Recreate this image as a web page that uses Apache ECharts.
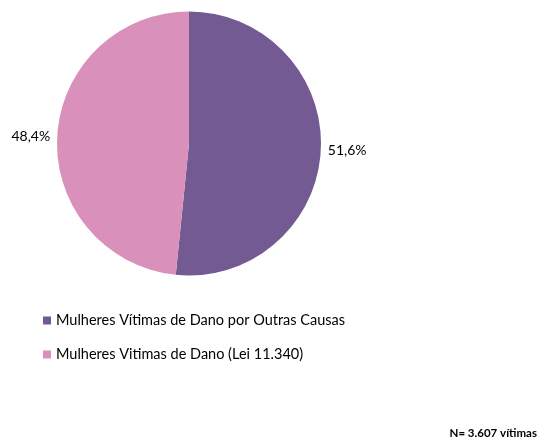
<!DOCTYPE html>
<html>
<head>
<meta charset="utf-8">
<script src="https://cdn.jsdelivr.net/npm/echarts@6/dist/echarts.min.js"></script>
<style>html,body{margin:0;padding:0;background:#fff}#c{width:539px;height:441px}</style>
</head>
<body>
<div id="c"></div>
<script>
const categories = ['Mulheres Vítimas de Dano por Outras Causas', 'Mulheres Vitimas de Dano (Lei 11.340)'];
const values = [51.6, 48.4];
const labels = ['51,6%', '48,4%'];
const colors = ['#735a92', '#d990bb'];
const footnote = 'N= 3.607 vítimas';

const chart = echarts.init(document.getElementById('c'), null, {renderer: 'canvas'});
chart.setOption({
  animation: false,
  color: colors,
  textStyle: {fontFamily: 'Lato'},
  legend: {
    orient: 'vertical', left: 38, top: 308,
    itemWidth: 8, itemHeight: 8, itemGap: 19,
    icon: 'rect',
    textStyle: {fontSize: 14.5, color: '#000', fontFamily: 'Lato'},
    data: categories
  },
  graphic: [{
    type: 'text', right: 2, bottom: 2,
    style: {text: footnote, font: 'bold 11.5px Lato', fill: '#000'}
  }],
  series: [{
    type: 'pie',
    center: [189, 143.5],
    radius: 132,
    startAngle: 90,
    clockwise: true,
    label: {
      show: true, position: 'outside',
      formatter: p => labels[p.dataIndex],
      fontSize: 14, color: '#000', fontFamily: 'Lato'
    },
    labelLine: {show: false, length: 1, length2: 1},
    data: categories.map((c, i) => ({name: c, value: values[i]}))
  }]
});
</script>
</body>
</html>
